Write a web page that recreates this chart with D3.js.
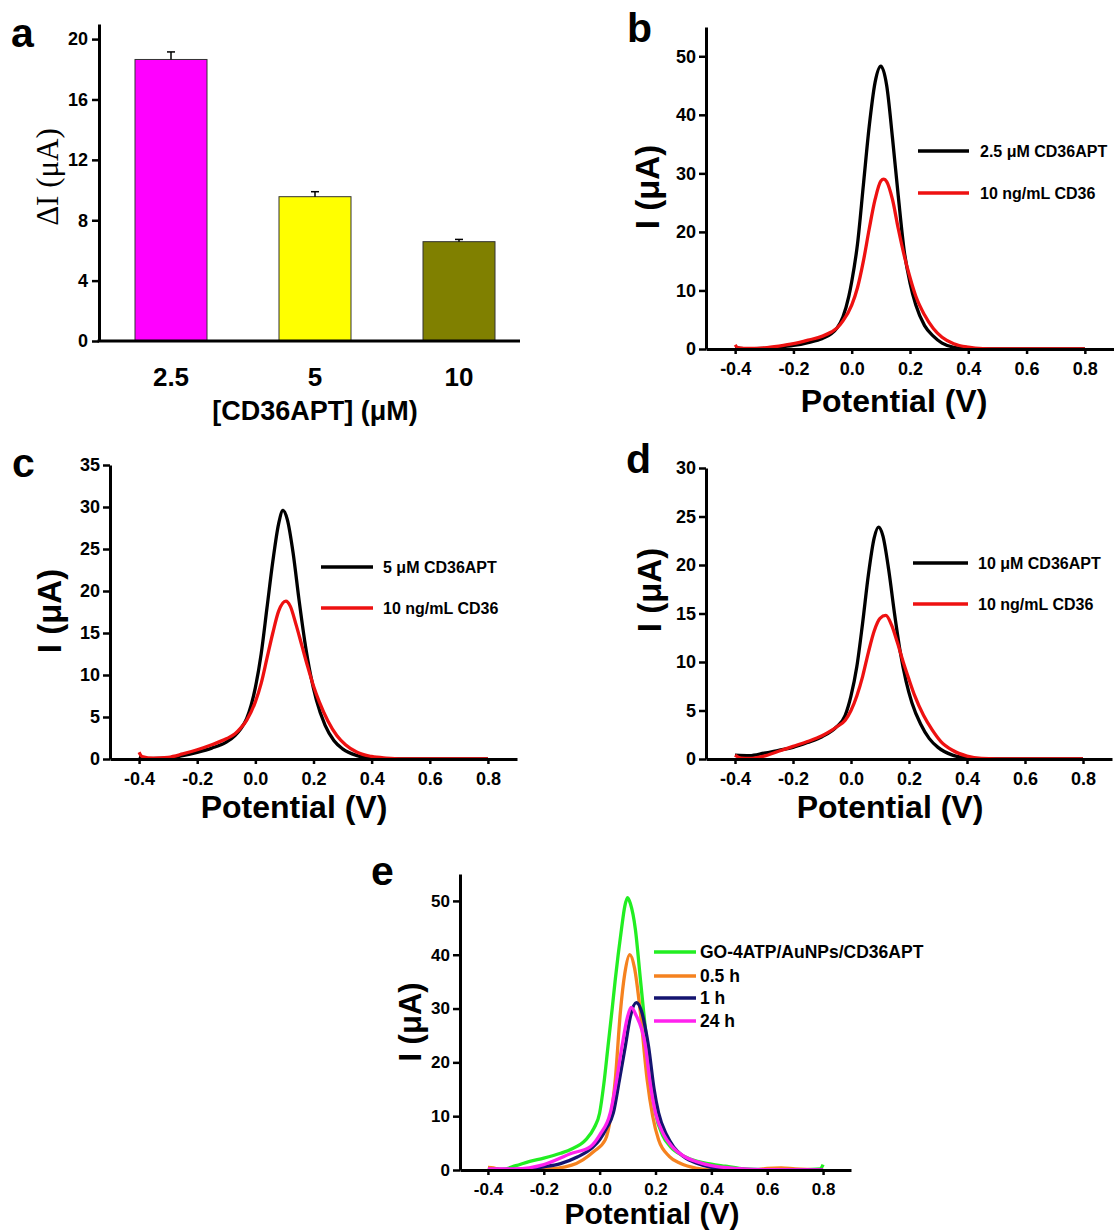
<!DOCTYPE html>
<html><head><meta charset="utf-8">
<script src="https://cdn.jsdelivr.net/npm/d3@7"></script>
<style>
html,body{margin:0;padding:0;background:#fff;}
svg{display:block;}
text{font-family:'Liberation Sans',Arial,sans-serif;font-weight:bold;fill:#000;}
</style></head>
<body>
<svg id="chart" width="1114" height="1231"></svg>
<script>
// ---------------- DATA ----------------
// Panel a
const barCategories = ["2.5", "5", "10"];
const barValues = [18.65, 9.56, 6.58];
const barErrors = [0.5, 0.33, 0.15];
const barColors = ["#ff00ff", "#ffff00", "#808000"];
const barYTicks = [0, 4, 8, 12, 16, 20];

// shared potential axis ticks
const potentialTicks = [-0.4, -0.2, 0.0, 0.2, 0.4, 0.6, 0.8];

// Panel b
const bBlack = [[-0.4,0.3],[-0.37,0.05],[-0.3,0.1],[-0.25,0.3],[-0.2,0.6],[-0.15,1.1],[-0.1,1.8],[-0.07,2.6],[-0.05,3.6],[-0.03,5.5],[-0.01,9],[0.0,11.5],[0.02,18],[0.04,28],[0.06,38],[0.08,45.5],[0.1,48.3],[0.12,45],[0.14,36],[0.16,26],[0.18,16.8],[0.2,11.3],[0.22,7.5],[0.25,4],[0.28,2.2],[0.31,1.0],[0.35,0.3],[0.4,0.05],[0.5,0],[0.8,0]];
const bRed = [[-0.4,0.7],[-0.39,0.2],[-0.35,0.1],[-0.3,0.2],[-0.25,0.5],[-0.2,0.9],[-0.15,1.5],[-0.1,2.2],[-0.07,2.9],[-0.05,3.6],[-0.03,4.8],[0.0,7.5],[0.02,10.5],[0.04,15],[0.06,20.5],[0.08,25.5],[0.1,28.7],[0.11,29],[0.12,28.6],[0.14,25.5],[0.16,20.5],[0.18,16],[0.2,12.2],[0.22,9],[0.25,5.8],[0.28,3.5],[0.31,2.0],[0.35,0.9],[0.4,0.3],[0.45,0.05],[0.5,0],[0.8,0]];

// Panel c
const cBlack = [[-0.4,0.3],[-0.37,0.05],[-0.3,0.1],[-0.25,0.4],[-0.2,0.8],[-0.15,1.3],[-0.1,2.0],[-0.07,2.8],[-0.05,3.6],[-0.03,4.8],[0.0,8.5],[0.02,12.5],[0.04,18],[0.06,23.5],[0.08,28],[0.095,29.6],[0.11,28.5],[0.13,24.5],[0.15,19],[0.17,14],[0.19,10],[0.21,7],[0.24,4],[0.27,2.2],[0.3,1.2],[0.35,0.4],[0.4,0.1],[0.45,0],[0.8,0]];
const cRed = [[-0.4,0.8],[-0.39,0.3],[-0.35,0.1],[-0.3,0.2],[-0.25,0.6],[-0.2,1.1],[-0.15,1.7],[-0.1,2.4],[-0.07,3.0],[-0.05,3.7],[-0.03,4.6],[0.0,6.8],[0.02,9],[0.04,12],[0.06,15],[0.08,17.6],[0.105,18.8],[0.12,18.2],[0.14,16],[0.16,13.5],[0.18,11],[0.2,8.7],[0.22,6.8],[0.25,4.5],[0.28,2.8],[0.31,1.7],[0.35,0.8],[0.4,0.3],[0.45,0.1],[0.5,0],[0.8,0]];

// Panel d
const dBlack = [[-0.4,0.4],[-0.35,0.35],[-0.3,0.6],[-0.25,0.9],[-0.2,1.2],[-0.15,1.7],[-0.1,2.3],[-0.05,3.3],[-0.02,4.5],[0.0,6.5],[0.02,9.5],[0.04,14],[0.06,19],[0.08,22.8],[0.095,23.9],[0.11,23],[0.13,19.5],[0.15,15],[0.17,11],[0.19,8],[0.21,5.8],[0.24,3.6],[0.27,2.1],[0.3,1.2],[0.35,0.4],[0.4,0.1],[0.45,0],[0.8,0]];
const dRed = [[-0.4,0.4],[-0.38,0.1],[-0.35,0.05],[-0.3,0.3],[-0.25,0.8],[-0.2,1.3],[-0.15,1.8],[-0.1,2.4],[-0.07,2.9],[-0.05,3.3],[-0.02,4.0],[0.0,5.0],[0.02,6.5],[0.04,8.5],[0.06,11],[0.08,13.2],[0.1,14.5],[0.12,14.8],[0.14,13.8],[0.16,12],[0.18,10],[0.2,8.2],[0.22,6.5],[0.25,4.5],[0.28,3.0],[0.31,1.8],[0.35,0.9],[0.4,0.3],[0.45,0.05],[0.5,0],[0.8,0]];

// Panel e
const eGreen = [[-0.4,0.3],[-0.35,0.1],[-0.3,0.8],[-0.25,1.6],[-0.2,2.2],[-0.14,3.1],[-0.1,3.9],[-0.05,5.6],[-0.02,7.8],[0.0,10.6],[0.015,16],[0.03,23],[0.045,30],[0.056,35.4],[0.078,44.7],[0.09,49],[0.1,50.6],[0.11,49.5],[0.128,44.7],[0.146,35.4],[0.17,23],[0.185,16],[0.2,10.6],[0.225,6.5],[0.254,4.3],[0.3,2.6],[0.35,1.6],[0.4,1.1],[0.45,0.7],[0.5,0.3],[0.55,0.1],[0.6,0.05],[0.7,0],[0.79,0.2],[0.8,1.0]];
const eOrange = [[-0.4,0.5],[-0.38,0.4],[-0.35,0],[-0.2,0.1],[-0.1,0.9],[-0.06,1.9],[-0.02,3.5],[0.02,5.6],[0.04,10],[0.056,16.8],[0.074,29.2],[0.09,36.5],[0.108,40],[0.125,37.5],[0.146,29.2],[0.17,16.8],[0.19,10],[0.211,5.6],[0.25,2.5],[0.29,1.2],[0.35,0.3],[0.4,0],[0.55,0],[0.6,0.3],[0.65,0.4],[0.7,0.2],[0.8,0]];
const eNavy = [[-0.4,0.1],[-0.3,0.1],[-0.2,0.6],[-0.14,1.2],[-0.08,2.4],[-0.023,4.3],[0.0,5.6],[0.025,7.8],[0.049,10.6],[0.07,16.5],[0.092,23],[0.11,28.5],[0.131,31.1],[0.15,29.5],[0.165,26],[0.175,23],[0.195,15],[0.211,10.6],[0.24,6.5],[0.265,4.3],[0.3,2.5],[0.35,1.2],[0.4,0.5],[0.5,0.1],[0.8,0]];
const eMagenta = [[-0.4,0.2],[-0.3,0.2],[-0.2,1.0],[-0.1,3.1],[-0.034,4.3],[0.0,6.5],[0.038,10.6],[0.06,16.5],[0.08,23],[0.1,28.5],[0.113,30.2],[0.13,28.8],[0.164,23],[0.18,16.5],[0.2,10.6],[0.23,6.5],[0.26,4.3],[0.3,2.6],[0.35,1.5],[0.4,0.8],[0.5,0.25],[0.6,0.05],[0.8,0]];

// ---------------- DRAW ----------------
const svg = d3.select("#chart");
const FONT = "'Liberation Sans',Arial,sans-serif";
const hyphenFmt = d => d3.format(".1f")(d).replace("\u2212", "-");

function panelLetter(txt, x, y) {
  svg.append("text").attr("x", x).attr("y", y).attr("font-size", 41).text(txt);
}

// ---- Panel a ----
(function () {
  const left = 99, bottom = 341;
  const x = d3.scaleBand().domain(barCategories).range([99, 531]).paddingInner(0.5).paddingOuter(0.25);
  const y = d3.scaleLinear().domain([0, 21]).range([341, 24]);
  const g = svg.append("g");
  g.selectAll("rect.bar").data(barCategories).join("rect")
    .attr("x", d => x(d)).attr("width", x.bandwidth())
    .attr("y", (d, i) => y(barValues[i])).attr("height", (d, i) => y(0) - y(barValues[i]))
    .attr("fill", (d, i) => barColors[i]).attr("stroke", "#333").attr("stroke-width", 1);
  barCategories.forEach((d, i) => {
    const cx = x(d) + x.bandwidth() / 2;
    g.append("line").attr("x1", cx).attr("x2", cx).attr("y1", y(barValues[i])).attr("y2", y(barValues[i] + barErrors[i]))
      .attr("stroke", "#000").attr("stroke-width", 1.5);
    g.append("line").attr("x1", cx - 4).attr("x2", cx + 4).attr("y1", y(barValues[i] + barErrors[i])).attr("y2", y(barValues[i] + barErrors[i]))
      .attr("stroke", "#000").attr("stroke-width", 1.5);
  });
  const ya = g.append("g").attr("transform", `translate(${left},0)`)
    .call(d3.axisLeft(y).tickValues(barYTicks).tickSize(7).tickPadding(4).tickSizeOuter(0));
  ya.select(".domain").attr("stroke-width", 3);
  ya.selectAll(".tick line").attr("stroke-width", 2.5);
  ya.selectAll(".tick text").attr("font-size", 18).attr("font-family", FONT).attr("font-weight", "bold");
  const xa = g.append("g").attr("transform", `translate(0,${bottom})`)
    .call(d3.axisBottom(x).tickSize(0).tickPadding(0));
  xa.select(".domain").remove();
  xa.selectAll(".tick text").attr("font-size", 26).attr("font-family", FONT).attr("font-weight", "bold").attr("y", 45).attr("dy", 0);
  g.append("line").attr("x1", left - 1.5).attr("x2", 520).attr("y1", bottom).attr("y2", bottom).attr("stroke", "#000").attr("stroke-width", 3);
  g.append("text").attr("x", 315).attr("y", 420).attr("text-anchor", "middle").attr("font-size", 27).text("[CD36APT] (μM)");
  g.append("text").attr("transform", "translate(58,177) rotate(-90)").attr("text-anchor", "middle")
    .attr("font-size", 31).style("font-family", "'Liberation Serif','Times New Roman',serif").style("font-weight", "normal").text("ΔI (μA)");
  panelLetter("a", 11, 47);
})();

// ---- curve panels ----
function curvePanel(cfg) {
  const x = d3.scaleLinear().domain([-0.5, 0.9]).range(cfg.xr);
  const y = d3.scaleLinear().domain(cfg.yd).range(cfg.yr);
  const g = svg.append("g");
  const line = d3.line().x(d => x(d[0])).y(d => y(d[1])).curve(d3.curveMonotoneX);
  cfg.series.forEach(s => {
    g.append("path").datum(s.data).attr("d", line).attr("fill", "none")
      .attr("stroke", s.color).attr("stroke-width", 3.3).attr("stroke-linejoin", "round");
  });
  const ya = g.append("g").attr("transform", `translate(${cfg.xr[0]},0)`)
    .call(d3.axisLeft(y).tickValues(cfg.yTicks).tickSize(7).tickPadding(3).tickSizeOuter(0));
  ya.select(".domain").attr("stroke-width", 3);
  ya.selectAll(".tick line").attr("stroke-width", 2.5);
  ya.selectAll(".tick text").attr("font-size", cfg.tf).attr("font-family", FONT).attr("font-weight", "bold");
  const xa = g.append("g").attr("transform", `translate(0,${cfg.yr[0]})`)
    .call(d3.axisBottom(x).tickValues(potentialTicks).tickFormat(hyphenFmt).tickSize(5).tickPadding(8).tickSizeOuter(0));
  xa.select(".domain").attr("stroke-width", 3);
  xa.selectAll(".tick line").attr("stroke-width", 2.5);
  xa.selectAll(".tick text").attr("font-size", cfg.tf).attr("font-family", FONT).attr("font-weight", "bold");
  g.append("text").attr("x", cfg.titleX).attr("y", cfg.titleY).attr("text-anchor", "middle").attr("font-size", cfg.titleF).text("Potential (V)");
  g.append("text").attr("transform", `translate(${cfg.ytX},${cfg.ytY}) rotate(-90)`).attr("text-anchor", "middle").attr("font-size", cfg.titleF + 1).text("I (μA)");
  cfg.series.forEach((s, i) => {
    const ly = cfg.leg.y[i];
    g.append("line").attr("x1", cfg.leg.x1).attr("x2", cfg.leg.x2).attr("y1", ly).attr("y2", ly)
      .attr("stroke", s.color).attr("stroke-width", 3.3);
    g.append("text").attr("x", cfg.leg.tx).attr("y", ly).attr("dy", "0.35em").attr("font-size", cfg.leg.f).text(s.name);
  });
  panelLetter(cfg.letter, cfg.lx, cfg.ly);
}

curvePanel({
  letter: "b", lx: 627, ly: 42,
  xr: [706, 1114], yd: [0, 55], yr: [349, 27], yTicks: [0, 10, 20, 30, 40, 50], tf: 18,
  titleX: 894, titleY: 412, titleF: 32, ytX: 659, ytY: 187,
  series: [{ name: "2.5 μM CD36APT", color: "#000", data: bBlack }, { name: "10 ng/mL CD36", color: "#ee1111", data: bRed }],
  leg: { x1: 918, x2: 969, tx: 980, y: [151, 193], f: 16 }
});
curvePanel({
  letter: "c", lx: 12, ly: 477,
  xr: [110, 517], yd: [0, 35], yr: [759, 465], yTicks: [0, 5, 10, 15, 20, 25, 30, 35], tf: 18,
  titleX: 294, titleY: 818, titleF: 32, ytX: 61, ytY: 611,
  series: [{ name: "5 μM CD36APT", color: "#000", data: cBlack }, { name: "10 ng/mL CD36", color: "#ee1111", data: cRed }],
  leg: { x1: 321, x2: 373, tx: 383, y: [567, 608], f: 16 }
});
curvePanel({
  letter: "d", lx: 626, ly: 473,
  xr: [706, 1112], yd: [0, 30], yr: [759, 468], yTicks: [0, 5, 10, 15, 20, 25, 30], tf: 18,
  titleX: 890, titleY: 818, titleF: 32, ytX: 661, ytY: 590,
  series: [{ name: "10 μM CD36APT", color: "#000", data: dBlack }, { name: "10 ng/mL CD36", color: "#ee1111", data: dRed }],
  leg: { x1: 913, x2: 968, tx: 978, y: [563, 604], f: 16 }
});
curvePanel({
  letter: "e", lx: 371, ly: 885,
  xr: [460, 851], yd: [0, 55], yr: [1170, 874], yTicks: [0, 10, 20, 30, 40, 50], tf: 17,
  titleX: 652, titleY: 1224, titleF: 30, ytX: 421, ytY: 1022,
  series: [{ name: "GO-4ATP/AuNPs/CD36APT", color: "#22ee22", data: eGreen }, { name: "0.5 h", color: "#f5821f", data: eOrange },
           { name: "1 h", color: "#141470", data: eNavy }, { name: "24 h", color: "#ff22ee", data: eMagenta }],
  leg: { x1: 654, x2: 696, tx: 700, y: [952, 976, 998, 1021], f: 17.5 }
});
</script>
</body></html>
